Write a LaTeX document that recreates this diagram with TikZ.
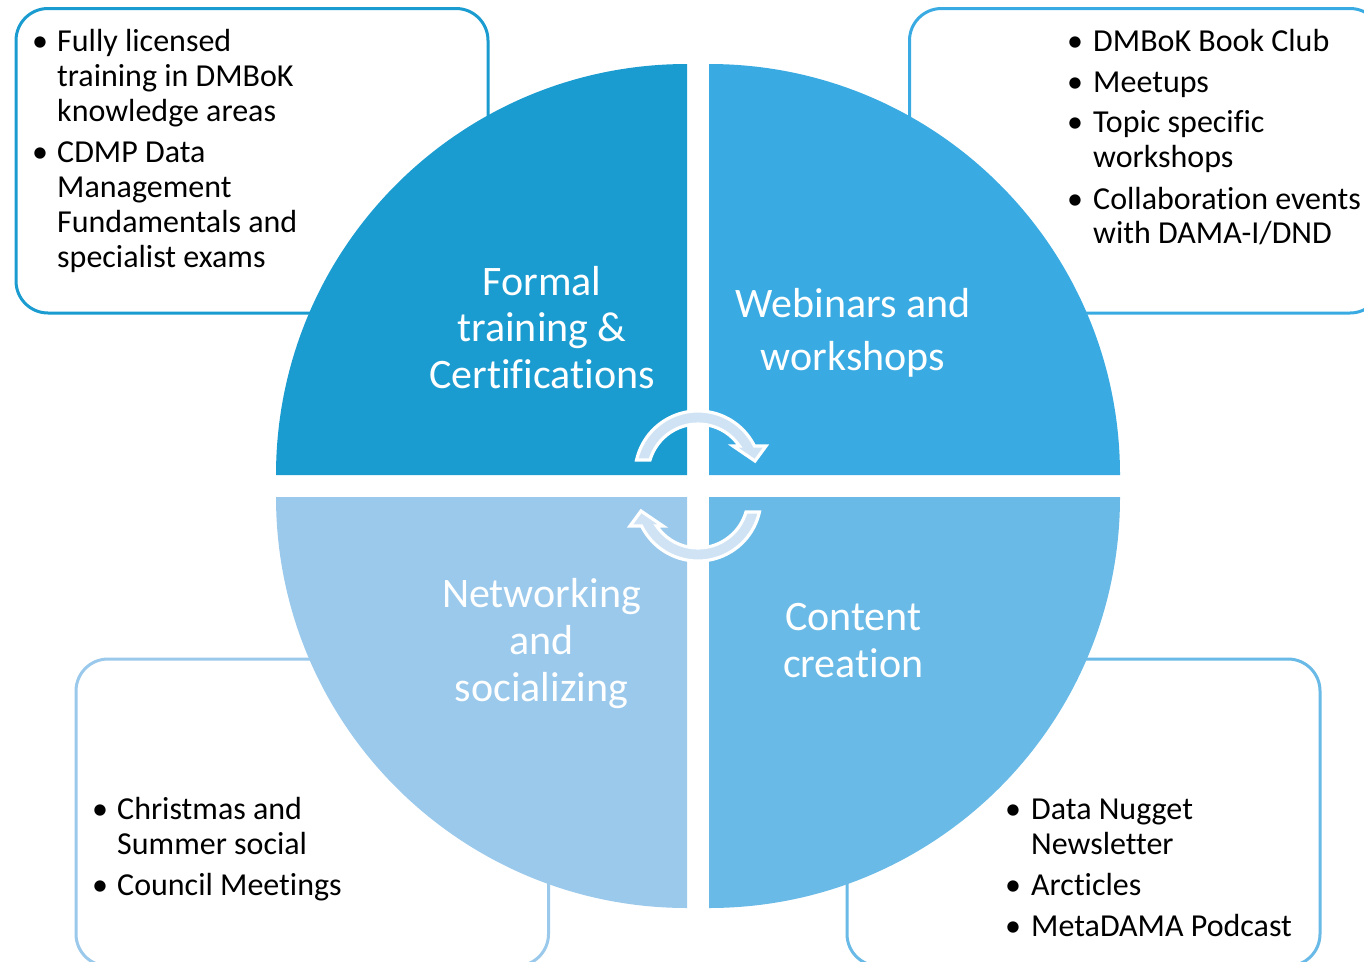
\documentclass[tikz,border=0pt]{standalone}
\usepackage{fontspec}
\setmainfont{Carlito}[Ligatures={NoCommon,NoContextual}]
\definecolor{qTL}{RGB}{26,156,208}
\definecolor{qTR}{RGB}{57,171,226}
\definecolor{qBL}{RGB}{154,201,236}
\definecolor{qBR}{RGB}{105,186,230}
\definecolor{arrfill}{RGB}{207,227,245}
\begin{document}
\begin{tikzpicture}[x=1pt,y=-1pt,
  infobox/.style={line width=3pt,rounded corners=32pt,fill=white},
  bul/.style={anchor=base,inner sep=0pt,font=\fontsize{32}{35}\selectfont},
  itemtext/.style={anchor=base west,inner sep=0pt,font=\fontsize{32}{35}\selectfont},
  qlabel/.style={anchor=base,inner sep=0pt,text=white,font=\fontsize{42}{47}\selectfont},
  cycarrow/.style={fill=arrfill,draw=white,line width=3.2pt,line join=miter}]
\useasboundingbox (0,0) rectangle (1364,961);
\clip (0,0) rectangle (1364,961);
\fill[white] (0,0) rectangle (1364,961);
% info boxes
\draw[infobox,draw=qTL] (16,8.5) rectangle (488,313);
\draw[infobox,draw=qTR] (909.5,8.5) rectangle (1382,313);
\draw[infobox,draw=qBL] (76,659) rectangle (548.5,966);
\draw[infobox,draw=qBR] (847,659) rectangle (1320,966);
% quadrants
\fill[qTL] (687,475) -- (276,475) arc[start angle=180,end angle=270,radius=411] -- cycle;
\fill[qTR] (709,475) -- (709,64) arc[start angle=270,end angle=360,radius=411] -- cycle;
\fill[qBR] (709,497) -- (1120,497) arc[start angle=0,end angle=90,radius=411] -- cycle;
\fill[qBL] (687,497) -- (687,908) arc[start angle=90,end angle=180,radius=411] -- cycle;
% cycle arrows
\draw[cycarrow] (636.57,460) arc[start angle=192.8,end angle=333.6,radius=63]
   -- (766,446) -- (755,461) -- (733,446) -- (739.4,446)
   arc[start angle=325.9,end angle=196.26,radius=50] -- cycle;
\begin{scope}[rotate around={180:(698,486)}]
\draw[cycarrow] (636.57,460) arc[start angle=192.8,end angle=333.6,radius=63]
   -- (766,446) -- (755,461) -- (733,446) -- (739.4,446)
   arc[start angle=325.9,end angle=196.26,radius=50] -- cycle;
\end{scope}
% quadrant labels
\node[qlabel] (tla) at (542,295) {Formal};
\node[qlabel] (tlb) at (542,341.7) {training \&};
\node[qlabel] (tlc) at (542,388.3) {Certifications};
\node[qlabel] (tra) at (853,317.7) {Webinars and};
\node[qlabel] (trb) at (853,370) {workshops};
\node[qlabel] (bla) at (541.5,607.7) {Networking};
\node[qlabel] (blb) at (541.5,654.3) {and};
\node[qlabel] (blc) at (541.5,701) {socializing};
\node[qlabel] (bra) at (853.3,630.7) {Content};
\node[qlabel] (brb) at (853.3,677.3) {creation};
% TL list
\node[bul] (b1) at (40,51.7) {•};
\node[itemtext] (t1) at (57,51.7) {Fully licensed};
\node[itemtext] (t2) at (57,86.7) {training in DMBoK};
\node[itemtext] (t3) at (57,121.7) {knowledge areas};
\node[bul] (b2) at (40,162.3) {•};
\node[itemtext] (t4) at (57,162.3) {CDMP Data};
\node[itemtext] (t5) at (57,197.3) {Management};
\node[itemtext] (t6) at (57,232.3) {Fundamentals and};
\node[itemtext] (t7) at (57,267.5) {specialist exams};
% TR list
\node[bul] (b3) at (1075,51) {•};
\node[itemtext] (u1) at (1093,51) {DMBoK Book Club};
\node[bul] (b4) at (1075,92) {•};
\node[itemtext] (u2) at (1093,92) {Meetups};
\node[bul] (b5) at (1075,132.7) {•};
\node[itemtext] (u3) at (1093,132.7) {Topic specific};
\node[itemtext] (u4) at (1093,167.5) {workshops};
\node[bul] (b6) at (1075,209) {•};
\node[itemtext] (u5) at (1093,209) {Collaboration events};
\node[itemtext] (u6) at (1093,243.5) {with DAMA-I/DND};
% BL list
\node[bul] (b7) at (100,819) {•};
\node[itemtext] (v1) at (117,819) {Christmas and};
\node[itemtext] (v2) at (117,854) {Summer social};
\node[bul] (b8) at (100,895) {•};
\node[itemtext] (v3) at (117,895) {Council Meetings};
% BR list
\node[bul] (b9) at (1013,819) {•};
\node[itemtext] (w1) at (1031,819) {Data Nugget};
\node[itemtext] (w2) at (1031,854) {Newsletter};
\node[bul] (b10) at (1013,895) {•};
\node[itemtext] (w3) at (1031,895) {Arcticles};
\node[bul] (b11) at (1013,936) {•};
\node[itemtext] (w4) at (1031,936) {MetaDAMA Podcast};
\end{tikzpicture}
\end{document}
